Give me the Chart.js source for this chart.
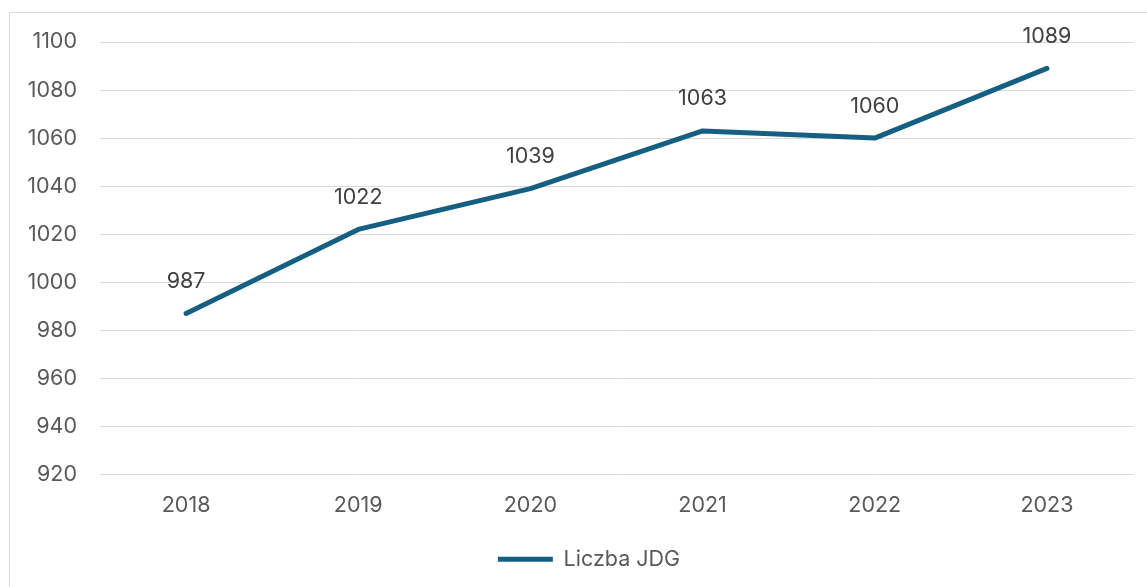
<!DOCTYPE html>
<html>
<head>
<meta charset="utf-8">
<script src="https://cdn.jsdelivr.net/npm/chart.js@4"></script>
<style>
  html, body { margin: 0; padding: 0; background: #fff; overflow: hidden; }
  #frame {
    position: absolute; left: 9px; top: 12px;
    width: 1200px; height: 640px;
    border: 1px solid #d9d9d9;
  }
  #wrap { position: absolute; left: 0; top: 0; width: 1147px; height: 587px; }
</style>
</head>
<body>
<div id="frame"></div>
<div id="wrap"><canvas id="chart" width="1147" height="587"></canvas></div>
<script>
// data
const years = ['2018', '2019', '2020', '2021', '2022', '2023'];
const jdg = [987, 1022, 1039, 1063, 1060, 1089];
const series_name = 'Liczba JDG';

const font_family = 'Inter, "Open Sans", sans-serif';
const font_size = 21.5;

// draw the value above every point
const value_labels = {
  id: 'value_labels',
  afterDatasetsDraw(chart) {
    const ctx = chart.ctx;
    const meta = chart.getDatasetMeta(0);
    ctx.save();
    ctx.font = font_size + 'px ' + font_family;
    ctx.fillStyle = '#404040';
    ctx.textAlign = 'center';
    ctx.textBaseline = 'middle';
    meta.data.forEach((pt, i) => {
      ctx.fillText(String(jdg[i]), pt.x, pt.y - 32);
    });
    ctx.restore();
  }
};

// centre the legend under the plot area instead of the whole canvas
const legend_shift = {
  id: 'legend_shift',
  afterLayout(chart) {
    if (chart.legend) {
      chart.legend.left = 45;
    }
  }
};

Chart.defaults.font.family = font_family;
Chart.defaults.font.size = font_size;
Chart.defaults.color = '#595959';

const ctx = document.getElementById('chart');
const chart = new Chart(ctx, {
  type: 'line',
  data: {
    labels: years,
    datasets: [{
      label: series_name,
      data: jdg,
      borderColor: '#156082',
      backgroundColor: '#156082',
      borderWidth: 5,
      borderCapStyle: 'round',
      borderJoinStyle: 'round',
      pointRadius: 0,
      pointHoverRadius: 0,
      tension: 0
    }]
  },
  options: {
    responsive: false,
    animation: false,
    layout: { padding: { top: 42, right: 14, bottom: 7, left: 0 } },
    scales: {
      x: {
        offset: true,
        grid: { display: false, drawTicks: false },
        border: { display: false },
        ticks: { padding: 18, color: '#595959' },
        afterFit(scale) { scale.height = 64; }
      },
      y: {
        min: 920,
        max: 1100,
        ticks: {
          stepSize: 20,
          padding: 23,
          color: '#595959',
          callback: (v) => String(v)
        },
        grid: { color: '#d9d9d9', lineWidth: 1, drawTicks: false },
        border: { display: false },
        afterFit(scale) { scale.width = 100; }
      }
    },
    plugins: {
      legend: {
        position: 'bottom',
        labels: {
          usePointStyle: true,
          pointStyle: 'line',
          pointStyleWidth: 55,
          padding: 10,
          color: '#595959',
          font: { size: font_size }
        }
      },
      tooltip: { enabled: false }
    }
  },
  plugins: [value_labels, legend_shift]
});
</script>
</body>
</html>
